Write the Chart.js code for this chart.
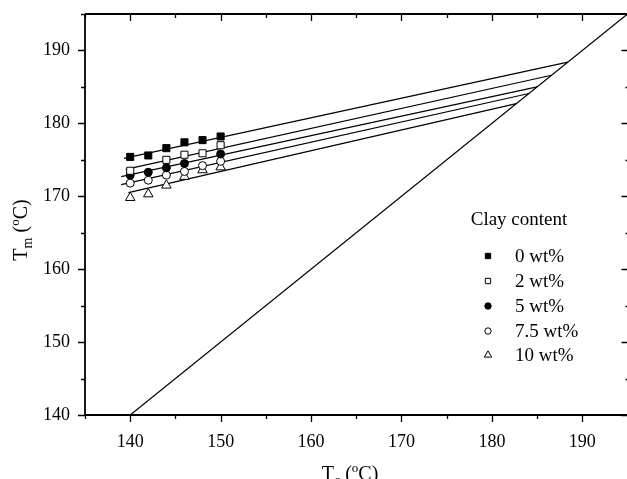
<!DOCTYPE html>
<html>
<head>
<meta charset="utf-8">
<script src="https://cdn.jsdelivr.net/npm/chart.js@4.4.1/dist/chart.umd.min.js"></script>
<style>
  html, body { margin: 0; padding: 0; background: #fff; overflow: hidden; }
  /* a little wider than the window: the plot frame runs off the right edge as in the original */
  #wrap { width: 634px; height: 479px; position: relative; }
</style>
</head>
<body>
<div id="wrap"><canvas id="chart"></canvas></div>
<script>
// Crystallization temperatures (x) and melting temperatures per clay content
const tcValues = [140, 142, 144, 146, 148, 150];
const seriesNames = ['0 wt%', '2 wt%', '5 wt%', '7.5 wt%', '10 wt%'];
const tm0 = [175.4, 175.6, 176.6, 177.4, 177.7, 178.2];
const tm2 = [173.5, null, 175.0, 175.7, 175.9, 177.0];
const tm5 = [172.9, 173.3, 173.9, 174.5, null, 175.8];
const tm75 = [171.8, 172.2, 172.9, 173.4, 174.2, 174.8];
const tm10 = [169.8, 170.3, 171.5, 172.7, 173.6, 174.0];

// Fitted lines: start point, end point lies on Tm = Tc
const fitStartTc = [139.3, 139.5, 139.0, 139.0, 139.8];
const fitStartTm = [175.2, 173.7, 172.7, 171.6, 170.5];
const fitEndT = [188.4, 186.6, 185.0, 184.1, 182.7];

// Tm = Tc line
const diagonalT = [140, 195];

const FONT = '"Liberation Serif", "Times New Roman", serif';
const allTm = [tm0, tm2, tm5, tm75, tm10];
const markers = [
  { style: 'rect', fill: '#000', radius: 5, legendRadius: 3.8 },
  { style: 'rect', fill: '#fff', radius: 5, legendRadius: 3.8 },
  { style: 'circle', fill: '#000', radius: 4, legendRadius: 3.2 },
  { style: 'circle', fill: '#fff', radius: 4, legendRadius: 3.2 },
  { style: 'triangle', fill: '#fff', radius: 5.5, legendRadius: 4.2 }
];

const datasets = [];
allTm.forEach((arr, i) => {
  const pts = [];
  tcValues.forEach((tc, j) => {
    if (arr[j] !== null) pts.push({ x: tc, y: arr[j] });
  });
  datasets.push({
    label: seriesNames[i],
    data: pts,
    showLine: false,
    pointStyle: markers[i].style,
    pointRadius: markers[i].radius,
    pointBackgroundColor: markers[i].fill,
    pointBorderColor: '#000',
    pointBorderWidth: 1
  });
});
fitStartTc.forEach((tc, i) => {
  datasets.push({
    label: 'fit ' + seriesNames[i],
    data: [{ x: tc, y: fitStartTm[i] }, { x: fitEndT[i], y: fitEndT[i] }],
    showLine: true,
    borderColor: '#000',
    borderWidth: 1.2,
    pointRadius: 0
  });
});
datasets.push({
  label: 'Tm = Tc',
  data: diagonalT.map(t => ({ x: t, y: t })),
  showLine: true,
  borderColor: '#000',
  borderWidth: 1.2,
  pointRadius: 0
});

// draw a string made of normal / sub / superscript runs
function drawRich(ctx, parts, x, y) {
  let total = 0;
  parts.forEach(p => {
    ctx.font = p.size + 'px ' + FONT;
    p.w = ctx.measureText(p.t).width;
    total += p.w;
  });
  let cx = x - total / 2;
  parts.forEach(p => {
    ctx.font = p.size + 'px ' + FONT;
    ctx.fillText(p.t, cx, y + (p.dy || 0));
    cx += p.w;
  });
}

const framePlugin = {
  id: 'frame',
  afterDraw(chart) {
    const { ctx, chartArea: a } = chart;
    const xs = chart.scales.x;
    const ys = chart.scales.y;
    ctx.save();
    ctx.strokeStyle = '#000';
    ctx.lineWidth = 1.8;
    ctx.beginPath();
    ctx.moveTo(a.left, a.top);
    ctx.lineTo(a.right, a.top);
    ctx.moveTo(a.left, a.top);
    ctx.lineTo(a.left, a.bottom);
    ctx.lineTo(a.right, a.bottom);
    ctx.stroke();

    // tick marks
    ctx.lineWidth = 1.3;
    ctx.beginPath();
    xs.ticks.forEach(t => {
      const px = Math.round(xs.getPixelForValue(t.value)) + 0.5;
      const major = t.value % 10 === 0;
      ctx.moveTo(px, a.bottom);
      ctx.lineTo(px, a.bottom + (major ? 7 : 4));
      ctx.moveTo(px, a.top);
      ctx.lineTo(px, a.top + (major ? 7 : 4));
    });
    ys.ticks.forEach(t => {
      const py = Math.round(ys.getPixelForValue(t.value)) + 0.5;
      const major = t.value % 10 === 0;
      ctx.moveTo(a.left - (major ? 7 : 4), py);
      ctx.lineTo(a.left, py);
      ctx.moveTo(a.right - (major ? 6 : 2), py);
      ctx.lineTo(a.right, py);
    });
    ctx.stroke();

    // axis titles
    ctx.fillStyle = '#000';
    ctx.textBaseline = 'alphabetic';
    ctx.textAlign = 'left';
    drawRich(ctx, [
      { t: 'T', size: 20 }, { t: 'c', size: 14, dy: 5 },
      { t: ' (', size: 20 }, { t: 'o', size: 13, dy: -8 }, { t: 'C)', size: 20 }
    ], 350, 480);
    ctx.save();
    ctx.translate(27, 230);
    ctx.rotate(-Math.PI / 2);
    drawRich(ctx, [
      { t: 'T', size: 20 }, { t: 'm', size: 14, dy: 5 },
      { t: ' (', size: 20 }, { t: 'o', size: 13, dy: -8 }, { t: 'C)', size: 20 }
    ], 0, 0);
    ctx.restore();

    // legend
    ctx.textBaseline = 'middle';
    ctx.textAlign = 'center';
    ctx.font = '19px ' + FONT;
    ctx.fillText('Clay content', 519, 220);
    ctx.textAlign = 'left';
    const rowY = [256, 281, 306, 331, 355];
    seriesNames.forEach((name, i) => {
      ctx.fillStyle = markers[i].fill;
      ctx.strokeStyle = '#000';
      ctx.lineWidth = 1;
      Chart.helpers.drawPoint(ctx, {
        pointStyle: markers[i].style,
        radius: markers[i].legendRadius,
        rotation: 0,
        borderWidth: 1
      }, 488, rowY[i]);
      ctx.fillStyle = '#000';
      ctx.font = '19px ' + FONT;
      ctx.fillText(name, 515, rowY[i] + 1);
    });
    ctx.restore();
  }
};

new Chart(document.getElementById('chart'), {
  type: 'scatter',
  data: { datasets: datasets },
  options: {
    responsive: true,
    maintainAspectRatio: false,
    animation: false,
    layout: { padding: { top: 14, right: 0, left: 0, bottom: 0 } },
    plugins: {
      legend: { display: false },
      tooltip: { enabled: false }
    },
    scales: {
      x: {
        type: 'linear',
        min: 135,
        max: 195,
        grid: { display: false, drawTicks: false },
        border: { display: false },
        ticks: {
          stepSize: 5,
          autoSkip: false,
          maxRotation: 0,
          padding: 16,
          color: '#000',
          font: { family: FONT, size: 18 },
          callback: v => (v % 10 === 0 ? String(v) : '')
        },
        afterFit: s => {
          s.height = 64;
          s.paddingLeft = 0;
          s.paddingRight = 0;
        }
      },
      y: {
        type: 'linear',
        min: 140,
        max: 195,
        grid: { display: false, drawTicks: false },
        border: { display: false },
        ticks: {
          stepSize: 5,
          autoSkip: false,
          padding: 15,
          color: '#000',
          font: { family: FONT, size: 18 },
          callback: v => (v % 10 === 0 ? String(v) : '')
        },
        afterFit: s => {
          s.width = 85;
          s.paddingTop = 0;
          s.paddingBottom = 0;
        }
      }
    }
  },
  plugins: [framePlugin]
});
</script>
</body>
</html>
